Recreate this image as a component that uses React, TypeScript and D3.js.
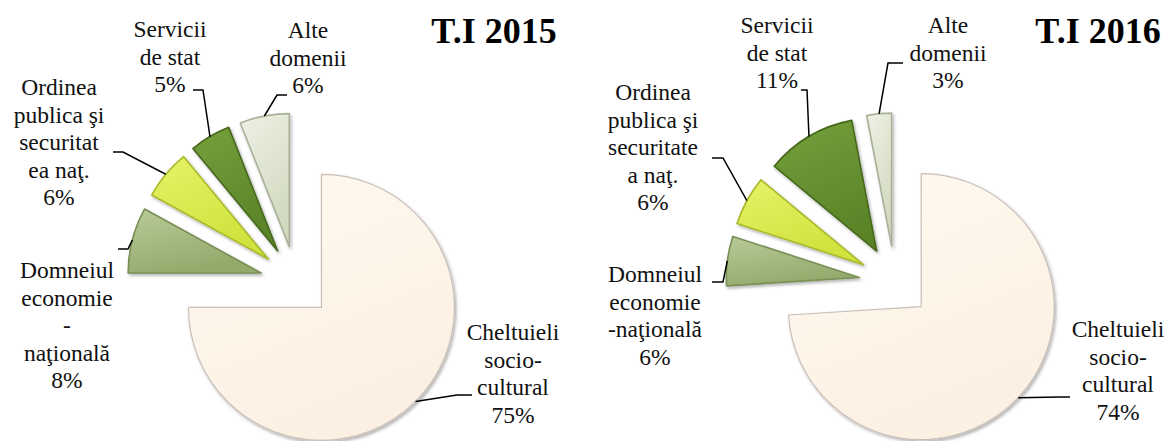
import React, { useEffect } from "react";
import * as d3 from "d3";

// ---- data ----
const categories = [
  "Cheltuieli socio-cultural",
  "Domneiul economie naţională",
  "Ordinea publica şi securitatea naţ.",
  "Servicii de stat",
  "Alte domenii",
];
const values2015 = [75, 8, 6, 5, 6];
const values2016 = [74, 6, 6, 11, 3];
const titles = ["T.I 2015", "T.I 2016"];
const labelLines2015 = [
  ["Cheltuieli", "socio-", "cultural"],
  ["Domneiul", "economie", "-", "naţională"],
  ["Ordinea", "publica şi", "securitat", "ea naţ."],
  ["Servicii", "de stat"],
  ["Alte", "domenii"],
];
const labelLines2016 = [
  ["Cheltuieli", "socio-", "cultural"],
  ["Domneiul", "economie", "-naţională"],
  ["Ordinea", "publica şi", "securitate", "a naţ."],
  ["Servicii", "de stat"],
  ["Alte", "domenii"],
];

// ---- styling / layout ----
const W = 1170;
const H = 441;
const R = 133;
const EXPLODE = 36;
const LINE_H = 27.5;
const colors = [
  ["#fffaf1", "#fcf0e2", "#c9bfb9"],
  ["#b9cb98", "#93aa6c", "#7a8f57"],
  ["#e6f268", "#cfe23c", "#a9b92c"],
  ["#76a03c", "#5a8428", "#46681c"],
  ["#eef1e4", "#d2d9c0", "#a9b198"],
];
const charts = [
  {
    values: values2015,
    lines: labelLines2015,
    cx: 296,
    cy: 282,
    titleX: 494,
    layout: [
      { x: 513, y: 340, elbow: [457, 395], end: [472, 395] },
      { x: 67, y: 278, elbow: [128, 249], end: [118, 249] },
      { x: 59, y: 95, elbow: [123, 152], end: [113, 152] },
      { x: 170, y: 37, elbow: [203, 90], end: [193, 90] },
      { x: 308, y: 38, elbow: [277, 95], end: [287, 95] },
    ],
  },
  {
    values: values2016,
    lines: labelLines2016,
    cx: 895,
    cy: 282,
    titleX: 1098,
    layout: [
      { x: 1118, y: 337, elbow: [1060, 397], end: [1070, 397] },
      { x: 655, y: 282, elbow: [723, 282], end: [712, 282] },
      { x: 653, y: 100, elbow: [723, 158], end: [712, 158] },
      { x: 777, y: 33, elbow: [807, 90], end: [801, 90] },
      { x: 948, y: 33, elbow: [888, 63], end: [903, 63] },
    ],
  },
];

const pie = d3
  .pie<number>()
  .sort(null)
  .startAngle(0)
  .endAngle(2 * Math.PI)
  .value((d) => d);
const arc = d3.arc<d3.PieArcDatum<number>>().innerRadius(0).outerRadius(R);

function PieChart({ chart, idx }: { chart: (typeof charts)[number]; idx: number }) {
  const arcs = pie(chart.values);
  return (
    <g>
      {arcs.map((a, i) => {
        const mid = (a.startAngle + a.endAngle) / 2;
        const ox = chart.cx + Math.sin(mid) * EXPLODE;
        const oy = chart.cy - Math.cos(mid) * EXPLODE;
        return (
          <g key={i} transform={`translate(${ox},${oy})`}>
            <path
              d={arc(a) || ""}
              fill={`url(#grad${i})`}
              stroke={colors[i][2]}
              strokeWidth={i === 0 ? 1.2 : 1.6}
              strokeLinejoin="round"
              filter="url(#shadow)"
            />
          </g>
        );
      })}
      {arcs.map((a, i) => {
        const mid = (a.startAngle + a.endAngle) / 2;
        const ox = chart.cx + Math.sin(mid) * EXPLODE;
        const oy = chart.cy - Math.cos(mid) * EXPLODE;
        const sx = ox + Math.sin(mid) * R;
        const sy = oy - Math.cos(mid) * R;
        const lay = chart.layout[i];
        const lines = [...chart.lines[i], `${chart.values[i]}%`];
        return (
          <g key={`l${i}`}>
            <polyline
              points={`${sx},${sy} ${lay.elbow[0]},${lay.elbow[1]} ${lay.end[0]},${lay.end[1]}`}
              fill="none"
              stroke="#000"
              strokeWidth={1.5}
            />
            <text
              x={lay.x}
              y={lay.y}
              textAnchor="middle"
              fontFamily="'Liberation Serif', 'Times New Roman', serif"
              fontSize={23.5}
              fill="#111"
            >
              {lines.map((t, k) => (
                <tspan key={k} x={lay.x} y={lay.y + k * LINE_H}>
                  {t}
                </tspan>
              ))}
            </text>
          </g>
        );
      })}
      <text
        x={chart.titleX}
        y={43}
        textAnchor="middle"
        fontFamily="'Liberation Serif', 'Times New Roman', serif"
        fontWeight="bold"
        fontSize={36}
        fill="#000"
      >
        {titles[idx]}
      </text>
    </g>
  );
}

export default function App() {
  useEffect(() => {
    document.body.style.margin = "0";
  }, []);
  return (
    <svg width={W} height={H} style={{ display: "block", background: "#fff" }}>
      <defs>
        <filter id="shadow" x="-20%" y="-20%" width="140%" height="140%">
          <feDropShadow dx={1.5} dy={2} stdDeviation={1.8} floodColor="#000" floodOpacity={0.3} />
        </filter>
        {categories.map((c, i) => (
          <linearGradient key={c} id={`grad${i}`} x1="0" y1="0" x2="0.4" y2="1">
            <stop offset="0%" stopColor={colors[i][0]} />
            <stop offset="100%" stopColor={colors[i][1]} />
          </linearGradient>
        ))}
      </defs>
      {charts.map((c, i) => (
        <PieChart key={i} chart={c} idx={i} />
      ))}
    </svg>
  );
}
